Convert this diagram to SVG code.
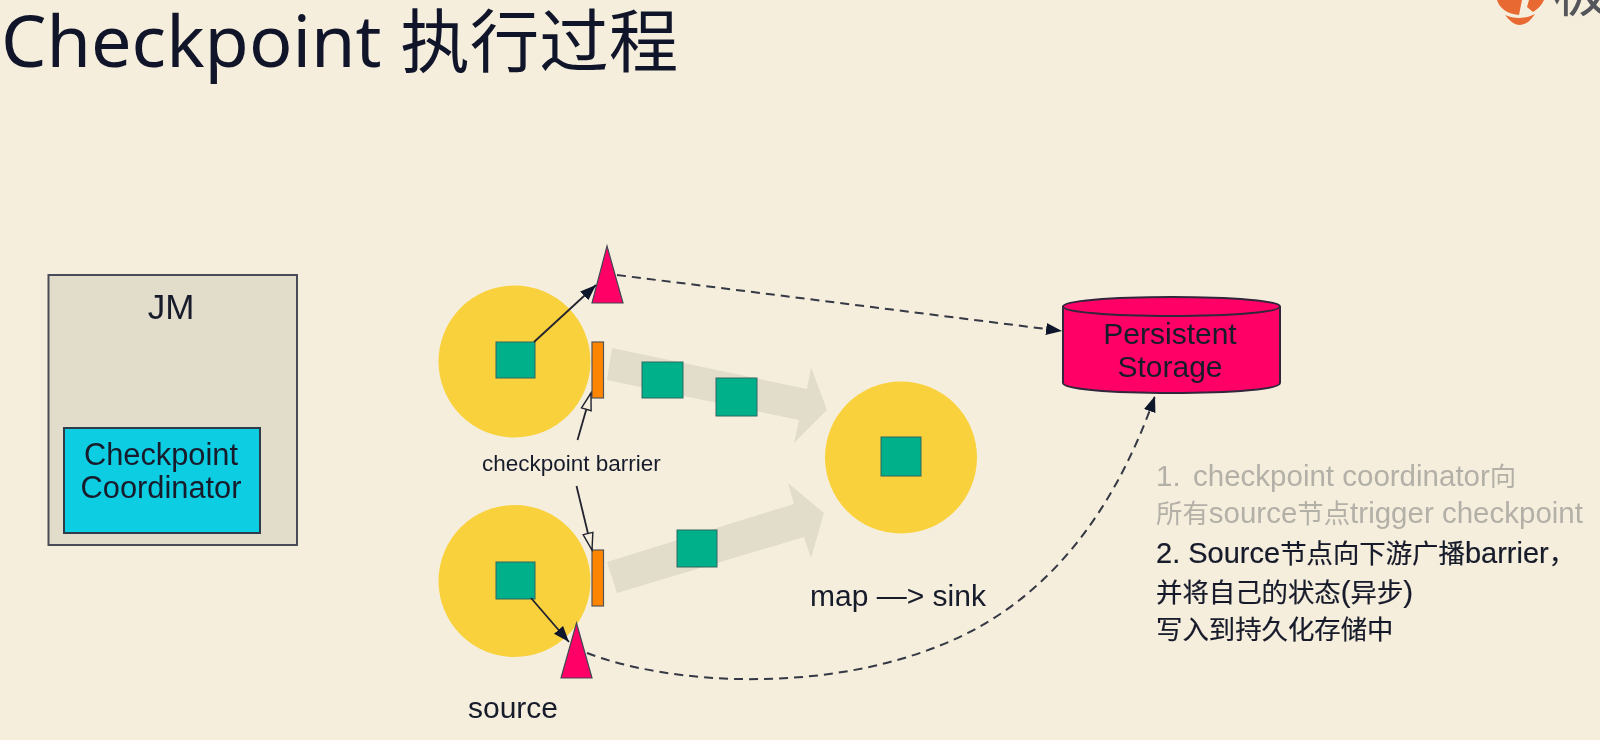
<svg xmlns="http://www.w3.org/2000/svg" width="1600" height="740" viewBox="0 0 1600 740">
<style>
text{font-family:"Liberation Sans","Noto Sans CJK SC",sans-serif;fill:#171a2b}
.title{font-family:"Noto Sans","Noto Sans CJK SC",sans-serif;font-size:72px;fill:#10152a}
.title tspan{font-size:69.500px}
.m{text-anchor:middle}
.n{font-size:30px}
.c{font-size:30.800px}
.s{font-size:29.500px;stroke:#171a2b;stroke-width:.2}
.s tspan{font-size:26.400px}
.s tspan.l{font-size:29.500px}
.s.g{fill:#b3b0a8;stroke:none}
.circle{fill:#f9d13c}
.sq{fill:#00b08b;stroke:#33665f;stroke-width:1}
.bar{fill:#ff8500;stroke:#555;stroke-width:1.2}
.tri{fill:#ff0066;stroke:#444654;stroke-width:1.2}
.flow{fill:#e2dccb}
.solid{fill:none;stroke:#20232f;stroke-width:1.8}
.dash{fill:none;stroke:#343744;stroke-width:2;stroke-dasharray:9 6}
</style>
<defs>
<marker id="fillhead" markerUnits="userSpaceOnUse" markerWidth="18" markerHeight="14" refX="16" refY="7" orient="auto"><path d="M0,1 L16,7 L0,13 Z" fill="#10152a"/></marker>
<marker id="openhead" markerUnits="userSpaceOnUse" markerWidth="20" markerHeight="14" refX="18" refY="7" orient="auto"><path d="M1,2 L18,7 L1,12 Z" fill="#f5eedc" stroke="#20232f" stroke-width="1.4"/></marker>
<filter id="soft" x="-5%" y="-5%" width="110%" height="110%"><feGaussianBlur stdDeviation="0.7"/></filter>
</defs>
<rect width="1600" height="740" fill="#f5eedc"/>
<text id="title" class="title" x="1" y="67">Checkpoint <tspan>执行过程</tspan></text>
<g id="logo" filter="url(#soft)">
<path d="M1497,0 C1499,7 1506,14 1519,15 L1522,0 Z M1529,0 L1527,7 L1533,12 C1538,9 1542,5 1544,0 Z" fill="#e86a33"/>
<path d="M1505,15 C1514,19 1526,19 1535,14 C1531,20 1526,25 1520,25 C1514,25 1509,20 1505,15 Z" fill="#e86a33"/>
<text x="1553" y="11" font-size="56" style="fill:#55565c">极</text>
</g>
<g filter="url(#soft)">
<g id="jm">
<rect x="48.500" y="275" width="248.500" height="270" fill="#e2dccb" stroke="#4a4c58" stroke-width="2"/>
<text class="m" x="171" y="319" font-size="35">JM</text>
</g>
<g id="coordinator">
<rect x="64" y="428" width="196" height="105" fill="#0fcde3" stroke="#2f3b4c" stroke-width="2"/>
<text class="m c" x="161" y="465">Checkpoint</text>
<text class="m c" x="161" y="498">Coordinator</text>
</g>
<g id="flows">
<polygon class="flow" points="612,348 807,389 811,367 827,410 794,443 799,420 607,380"/>
<polygon class="flow" points="607,562 794,504 788,483 824,513 811,558 804,537 617,593"/>
</g>
<g id="source-top">
<circle class="circle" cx="514.500" cy="361.500" r="76"/>
<rect class="sq" x="496" y="342" width="39" height="36"/>
<rect class="bar" x="592" y="342" width="11.500" height="56"/>
<polygon class="tri" points="607,246 623,303 592,303"/>
</g>
<g id="source-bottom">
<circle class="circle" cx="514.500" cy="581" r="76"/>
<rect class="sq" x="496" y="562" width="39" height="37"/>
<rect class="bar" x="592" y="550" width="11.500" height="56"/>
<polygon class="tri" points="576.500,623 592,678 561,678"/>
</g>
<g id="sink">
<circle class="circle" cx="901" cy="457.500" r="76"/>
<rect class="sq" x="881" y="437" width="40" height="39"/>
</g>
<g id="records">
<rect class="sq" x="642" y="362" width="41" height="36"/>
<rect class="sq" x="716" y="378" width="41" height="38"/>
<rect class="sq" x="677" y="530" width="40" height="37"/>
</g>
<g id="storage">
<path d="M1063,306.500 V383 C1063,389 1110,393 1171.500,393 C1233,393 1280,389 1280,383 V306.500 C1280,301 1233,297 1171.500,297 C1110,297 1063,301 1063,306.500 Z" fill="#ff0066" stroke="#33263c" stroke-width="2"/>
<path d="M1063,306.500 C1063,312 1110,316 1171.500,316 C1233,316 1280,312 1280,306.500" fill="none" stroke="#33263c" stroke-width="2"/>
<text class="m n" x="1170" y="344">Persistent</text>
<text class="m n" x="1170" y="377">Storage</text>
</g>
<g id="connectors">
<line class="solid" x1="534" y1="342" x2="596" y2="285" marker-end="url(#fillhead)"/>
<line class="solid" x1="531" y1="598" x2="569" y2="642" marker-end="url(#fillhead)"/>
<line class="solid" x1="577.500" y1="440" x2="591" y2="393" marker-end="url(#openhead)"/>
<line class="solid" x1="576.500" y1="486" x2="592" y2="550" marker-end="url(#openhead)"/>
<line class="dash" x1="617" y1="275" x2="1062" y2="331" marker-end="url(#fillhead)"/>
<path class="dash" d="M587,653 C670,685 830,695 953,640 C1050,597 1115,510 1155,396" marker-end="url(#fillhead)"/>
</g>
<g id="labels">
<text x="482" y="471" font-size="22.500">checkpoint barrier</text>
<text x="468" y="718" font-size="30">source</text>
<text x="810" y="606" font-size="30">map —&gt; sink</text>
<text class="s g" x="1156" y="486">1. <tspan class="l" x="1193">checkpoint coordinator</tspan><tspan>向</tspan></text>
<text class="s g" x="1156" y="523"><tspan>所有</tspan>source<tspan>节点</tspan>trigger checkpoint</text>
<text class="s" x="1156" y="563" style="font-size:29px">2. Source<tspan>节点向下游广播</tspan>barrier<tspan>，</tspan></text>
<text class="s" x="1156" y="602"><tspan>并将自己的状态</tspan>(<tspan>异步</tspan>)</text>
<text class="s" x="1156" y="639"><tspan>写入到持久化存储中</tspan></text>
</g>
</g>
</svg>
